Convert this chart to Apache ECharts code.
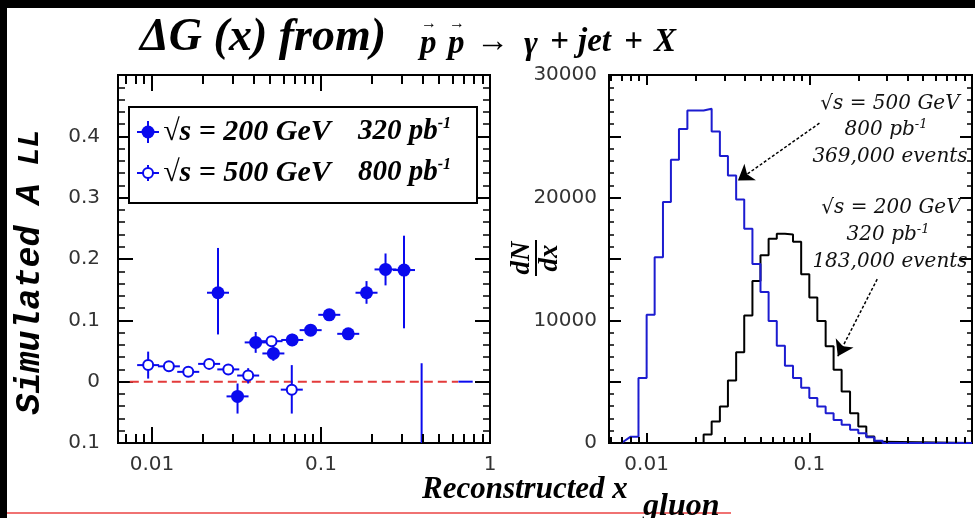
<!DOCTYPE html>
<html><head><meta charset="utf-8">
<script src="https://cdn.jsdelivr.net/npm/echarts@6/dist/echarts.min.js"></script>
<style>html,body{margin:0;padding:0;background:#fff}#c{width:975px;height:518px}</style>
</head><body><div id="c"></div>
<script>
// ---------- data ----------
// Left panel: simulated A_LL, sqrt(s)=200 GeV (filled)
const a200X  = [0.0246, 0.0321, 0.0411, 0.0523, 0.0676, 0.0869, 0.112, 0.145, 0.186, 0.241, 0.31, 0.394];
const a200Y  = [0.145, -0.024, 0.064, 0.046, 0.068, 0.084, 0.109, 0.078, 0.145, 0.183, 0.182, -0.20];
const a200Lo = [0.077, -0.052, 0.047, 0.034, 0.058, 0.076, 0.100, 0.070, 0.127, 0.157, 0.087, -0.43];
const a200Hi = [0.218, -0.003, 0.081, 0.058, 0.078, 0.092, 0.118, 0.086, 0.164, 0.209, 0.238, 0.03];
// sqrt(s)=500 GeV (open)
const a500X  = [0.0095, 0.0126, 0.0164, 0.0218, 0.0283, 0.0371, 0.0510, 0.0672];
const a500Y  = [0.027, 0.025, 0.016, 0.029, 0.020, 0.010, 0.066, -0.013];
const a500Lo = [0.005, 0.018, 0.010, 0.023, 0.014, -0.003, 0.058, -0.052];
const a500Hi = [0.049, 0.032, 0.022, 0.035, 0.026, 0.022, 0.074, 0.027];
// zero reference line and short blue stub at y=0
const zeroLineX = [0.0074, 0.647];
const stubX = [0.65, 0.79];

// Right panel: dN/dx histograms (bin edges in x_gluon)
const histEdges = [0.00794,0.00891,0.0100,0.0112,0.0126,0.0141,0.0158,0.0178,0.0200,0.0224,0.0251,0.0282,0.0316,0.0355,0.0398,0.0447,0.0501,0.0562,0.0631,0.0708,0.0794,0.0891,0.100,0.112,0.126,0.141,0.158,0.178,0.200,0.224,0.251,0.282];
const hist500 = [500,5300,10450,15150,19650,23100,25600,27100,27100,27250,25400,23400,21800,19850,17460,14590,12300,9950,7920,6300,5300,4500,3660,2980,2430,1880,1480,1070,800,470,190];
const hist200 = [0,0,0,0,0,0,0,0,0,700,1750,2980,5100,7400,10400,13200,15300,16650,17050,17000,16400,13750,11860,9940,7890,5980,4200,2430,1340,520,100];
const histStart500 = 0.0070, histEnd = 1;

// annotation arrows (data coords: [x, dN/dx])
const arrow500 = [[0.1154, 26070], [0.0364, 21390]];
const arrow200 = [[0.2614, 13360], [0.1497, 7070]];

// axis ticks / labels
const xMajor = [0.01, 0.1, 1];
const xMinor = [0.006,0.007,0.008,0.009,0.02,0.03,0.04,0.05,0.06,0.07,0.08,0.09,0.2,0.3,0.4,0.5,0.6,0.7,0.8,0.9];
const xTickLabels = ['0.01', '0.1', '1'];
const yLeftLabels = ['0.1', '0', '0.1', '0.2', '0.3', '0.4', ''];
const yRightLabels = ['0', '', '10000', '', '20000', '', '30000'];

// ---------- build ----------
const BLUE = '#0a0aee', HBLUE = '#1c1cd0';
const LMIN = 0.0063, RMIN = 0.00587;

// log-axis ticks as short mark lines standing on the bottom and hanging from the top of the frame
// (tick lengths expressed along the y scale of each panel)
function tickMarkLines(xMin, yMin, yMax, majLen, minLen, withOne) {
  const d = [];
  const add = (v, len) => {
    d.push([{ coord: [v, yMin] }, { coord: [v, yMin + len] }]);
    d.push([{ coord: [v, yMax] }, { coord: [v, yMax - len] }]);
  };
  xMajor.forEach(v => { if (v >= xMin && (withOne || v < 1)) add(v, majLen); });
  xMinor.forEach(v => { if (v >= xMin) add(v, minLen); });
  return { silent: true, animation: false, symbol: ['none', 'none'], label: { show: false },
    emphasis: { disabled: true }, lineStyle: { color: '#000', width: 2, type: 'solid', opacity: 1 }, data: d };
}
function errSeries(X, Y, Lo, Hi) {
  return {
    type: 'custom', xAxisIndex: 0, yAxisIndex: 0, silent: true, clip: true, z: 3,
    data: X.map((x, i) => [x, Lo[i], Hi[i], Y[i]]),
    encode: { x: 0, y: [1, 2, 3] },
    renderItem(params, api) {
      const x = api.value(0);
      const pLo = api.coord([x, api.value(1)]), pHi = api.coord([x, api.value(2)]), pC = api.coord([x, api.value(3)]);
      const st = { stroke: BLUE, lineWidth: 2 };
      return { type: 'group', children: [
        { type: 'line', shape: { x1: pLo[0], y1: pLo[1], x2: pHi[0], y2: pHi[1] }, style: st },
        { type: 'line', shape: { x1: pC[0] - 11, y1: pC[1], x2: pC[0] + 11, y2: pC[1] }, style: st }
      ]};
    }
  };
}
function stepData(edges, counts, start, end) {
  const d = [];
  if (start != null) d.push([start, 0]);
  for (let i = 0; i < counts.length; i++) { d.push([edges[i], counts[i]]); d.push([edges[i + 1], counts[i]]); }
  d.push([edges[counts.length], 0]);
  d.push([end, 0]);
  return d;
}

const labelFont = { fontFamily: 'DejaVu Sans', fontSize: 20, color: '#333' };
function xAxisLog(gi, min, showOne) {
  return {
    type: 'log', logBase: 10, gridIndex: gi, min: min, max: 1,
    axisLine: { show: false }, axisTick: { show: false }, splitLine: { show: false }, minorTick: { show: false },
    axisLabel: Object.assign({ margin: 12, showMinLabel: true, showMaxLabel: true,
      formatter: v => {
        const e = Math.log10(v), r = Math.round(e);
        if (Math.abs(e - r) > 1e-6) return '';
        const idx = r + 2;
        if (idx < 0 || idx >= xTickLabels.length) return '';
        if (idx === 2 && !showOne) return '';
        return xTickLabels[idx];
      } }, labelFont)
  };
}
function yAxisLin(gi, min, max, interval, labels, pos, majL, minL, margin) {
  return {
    type: 'value', gridIndex: gi, min: min, max: max, interval: interval, position: pos,
    axisLine: { show: false }, splitLine: { show: false },
    axisTick: { show: true, inside: true, length: majL, lineStyle: { color: '#000', width: 2 } },
    minorTick: { show: true, splitNumber: 5, length: minL, lineStyle: { color: '#000', width: 1.5 } },
    axisLabel: Object.assign({ show: labels != null, margin: margin,
      formatter: v => labels ? labels[Math.round((v - min) / interval)] : '' }, labelFont)
  };
}

const serifBI = (size) => ({ fontFamily: 'Liberation Serif', fontStyle: 'italic', fontWeight: 'bold', fontSize: size });
const annoFont = { fontFamily: 'DejaVu Serif', fontStyle: 'italic', fontSize: 20, fill: '#111' };

function annoText(x, y, main, sup) {
  return { type: 'text', x: x, y: y, z: 50, style: {
    text: sup ? '{m|' + main + '}{s|' + sup + '}' : '{m|' + main + '}',
    align: 'center', verticalAlign: 'middle',
    rich: { m: Object.assign({ lineHeight: 24 }, annoFont), s: { fontFamily: 'DejaVu Serif', fontStyle: 'italic', fontSize: 13, verticalAlign: 'top', lineHeight: 24, fill: '#111' } }
  }};
}
function supText(x, y, main, sup, size, align) {
  return { type: 'text', x: x, y: y, z: 50, style: {
    text: sup ? '{m|' + main + '}{s|' + sup + '}' : '{m|' + main + '}',
    align: align || 'left', verticalAlign: 'middle',
    rich: { m: Object.assign({ lineHeight: size + 4, fill: '#000' }, serifBI(size)),
            s: Object.assign({ lineHeight: size + 4, verticalAlign: 'top', fill: '#000' }, serifBI(Math.round(size * 0.55))) }
  }};
}
function plain(x, y, text, size, extra) {
  return { type: 'text', x: x, y: y, z: 50, style: Object.assign({ text: text, verticalAlign: 'middle', fill: '#000' }, serifBI(size), extra || {}) };
}

const graphics = [
  // dark page borders
  { type: 'rect', shape: { x: 0, y: 0, width: 975, height: 8 }, style: { fill: '#000' }, z: 1 },
  { type: 'rect', shape: { x: 0, y: 0, width: 7, height: 518 }, style: { fill: '#000' }, z: 1 },
  { type: 'rect', shape: { x: 7, y: 512, width: 724, height: 2 }, style: { fill: '#f07272' }, z: 1 },
  // title
  plain(140, 38, 'ΔG (x) from)', 46),
  plain(420, 44, 'p', 33), plain(448, 44, 'p', 33),
  plain(421, 24, '→', 16), plain(449, 24, '→', 16),
  plain(476, 42, '→', 33),
  plain(524, 45, 'γ', 33),
  plain(550, 42, '+', 33),
  plain(578, 42, 'jet', 33),
  plain(624, 42, '+', 33),
  plain(654, 42, 'X', 33),
  // left y title
  { type: 'text', x: 30, y: 272, rotation: Math.PI / 2, z: 50, style: {
      text: '{m|Simulated A}{s| LL}', align: 'center', verticalAlign: 'middle',
      rich: { m: { fontFamily: 'Liberation Mono', fontStyle: 'italic', fontWeight: 'bold', fontSize: 35, lineHeight: 40, fill: '#000' },
              s: { fontFamily: 'Liberation Mono', fontStyle: 'italic', fontWeight: 'bold', fontSize: 30, lineHeight: 40, fill: '#000' } } } },
  // right y title  dN / dx
  { type: 'group', x: 536, y: 258, rotation: Math.PI / 2, z: 50, children: [
      { type: 'text', x: 0, y: -14, style: Object.assign({ text: 'dN', align: 'center', verticalAlign: 'middle', fill: '#000' }, serifBI(27)) },
      { type: 'rect', shape: { x: -18, y: -1, width: 36, height: 2 }, style: { fill: '#000' } },
      { type: 'text', x: 0, y: 14, style: Object.assign({ text: 'dx', align: 'center', verticalAlign: 'middle', fill: '#000' }, serifBI(27)) }
  ]},
  // x title
  plain(422, 490, 'Reconstructed x', 31),
  plain(643, 507, 'gluon', 32),
  // legend box
  { type: 'rect', z: 40, shape: { x: 129, y: 107, width: 348, height: 96 }, style: { fill: '#fff', stroke: '#000', lineWidth: 2 } },
  { type: 'line', z: 41, shape: { x1: 148, y1: 121, x2: 148, y2: 143 }, style: { stroke: BLUE, lineWidth: 2 } },
  { type: 'line', z: 41, shape: { x1: 137, y1: 132, x2: 159, y2: 132 }, style: { stroke: BLUE, lineWidth: 2 } },
  { type: 'circle', z: 42, shape: { cx: 148, cy: 132, r: 6.5 }, style: { fill: BLUE } },
  { type: 'line', z: 41, shape: { x1: 148, y1: 165, x2: 148, y2: 181 }, style: { stroke: BLUE, lineWidth: 2 } },
  { type: 'line', z: 41, shape: { x1: 137, y1: 173, x2: 159, y2: 173 }, style: { stroke: BLUE, lineWidth: 2 } },
  { type: 'circle', z: 42, shape: { cx: 148, cy: 173, r: 5 }, style: { fill: '#fff', stroke: BLUE, lineWidth: 2 } },
  supText(163, 132, '√s = 200 GeV', null, 30),
  supText(358, 132, '320 pb', '-1', 29),
  supText(163, 173, '√s = 500 GeV', null, 30),
  supText(358, 173, '800 pb', '-1', 29),
  // right annotations
  annoText(890, 104, '√s = 500 GeV'),
  annoText(886, 130, '800 pb', '-1'),
  annoText(890, 157, '369,000 events'),
  annoText(891, 208, '√s = 200 GeV'),
  annoText(888, 235, '320 pb', '-1'),
  annoText(890, 262, '183,000 events')
];

const option = {
  animation: false,
  backgroundColor: '#fff',
  grid: [
    { left: 118, top: 75, width: 372, height: 368, show: true, borderColor: '#000', borderWidth: 2, backgroundColor: 'transparent' },
    { left: 609, top: 75, width: 369, height: 368, show: true, borderColor: '#000', borderWidth: 2, backgroundColor: 'transparent' }
  ],
  xAxis: [ xAxisLog(0, LMIN, true), xAxisLog(1, RMIN, false) ],
  yAxis: [
    yAxisLin(0, -0.1, 0.5, 0.1, yLeftLabels, 'left', 15, 7, 18),
    yAxisLin(0, -0.1, 0.5, 0.1, null, 'right', 15, 7, 8),
    yAxisLin(1, 0, 30000, 5000, yRightLabels, 'left', 12, 5, 12),
    yAxisLin(1, 0, 30000, 5000, null, 'right', 12, 5, 8)
  ],
  series: [
    { type: 'line', xAxisIndex: 0, yAxisIndex: 0, silent: true, symbol: 'none', z: 2,
      data: zeroLineX.map(x => [x, 0]), lineStyle: { color: '#e33a3a', width: 2, type: [9, 5] },
      markLine: tickMarkLines(LMIN, -0.1, 0.5, 0.026, 0.0147, true) },
    { type: 'line', xAxisIndex: 0, yAxisIndex: 0, silent: true, symbol: 'none', z: 2,
      data: stubX.map(x => [x, 0]), lineStyle: { color: BLUE, width: 2 } },
    errSeries(a200X, a200Y, a200Lo, a200Hi),
    { type: 'scatter', xAxisIndex: 0, yAxisIndex: 0, silent: true, z: 4, symbol: 'circle', symbolSize: 13,
      data: a200X.map((x, i) => [x, a200Y[i]]), itemStyle: { color: BLUE, opacity: 1 } },
    errSeries(a500X, a500Y, a500Lo, a500Hi),
    { type: 'scatter', xAxisIndex: 0, yAxisIndex: 0, silent: true, z: 4, symbol: 'circle', symbolSize: 10,
      data: a500X.map((x, i) => [x, a500Y[i]]), itemStyle: { color: '#fff', borderColor: BLUE, borderWidth: 2, opacity: 1 } },
    { type: 'line', xAxisIndex: 1, yAxisIndex: 2, silent: true, symbol: 'none', z: 3,
      data: stepData(histEdges, hist200, RMIN, histEnd), lineStyle: { color: '#000', width: 2 },
      markLine: tickMarkLines(RMIN, 0, 30000, 815, 490, false) },
    { type: 'line', xAxisIndex: 1, yAxisIndex: 2, silent: true, symbol: 'none', z: 4,
      data: stepData(histEdges, hist500, histStart500, histEnd), lineStyle: { color: HBLUE, width: 2 },
      markLine: { silent: true, animation: false, symbol: ['none', 'arrow'], symbolSize: 15,
        label: { show: false }, emphasis: { disabled: true },
        itemStyle: { color: '#000' },
        lineStyle: { color: '#000', width: 1.5, type: [3, 2], opacity: 1 },
        data: [
          [{ coord: arrow500[0] }, { coord: arrow500[1] }],
          [{ coord: arrow200[0] }, { coord: arrow200[1] }]
        ] } }
  ],
  graphic: graphics
};
const chart = echarts.init(document.getElementById('c'), null, { renderer: 'canvas' });
chart.setOption(option);
</script></body></html>
